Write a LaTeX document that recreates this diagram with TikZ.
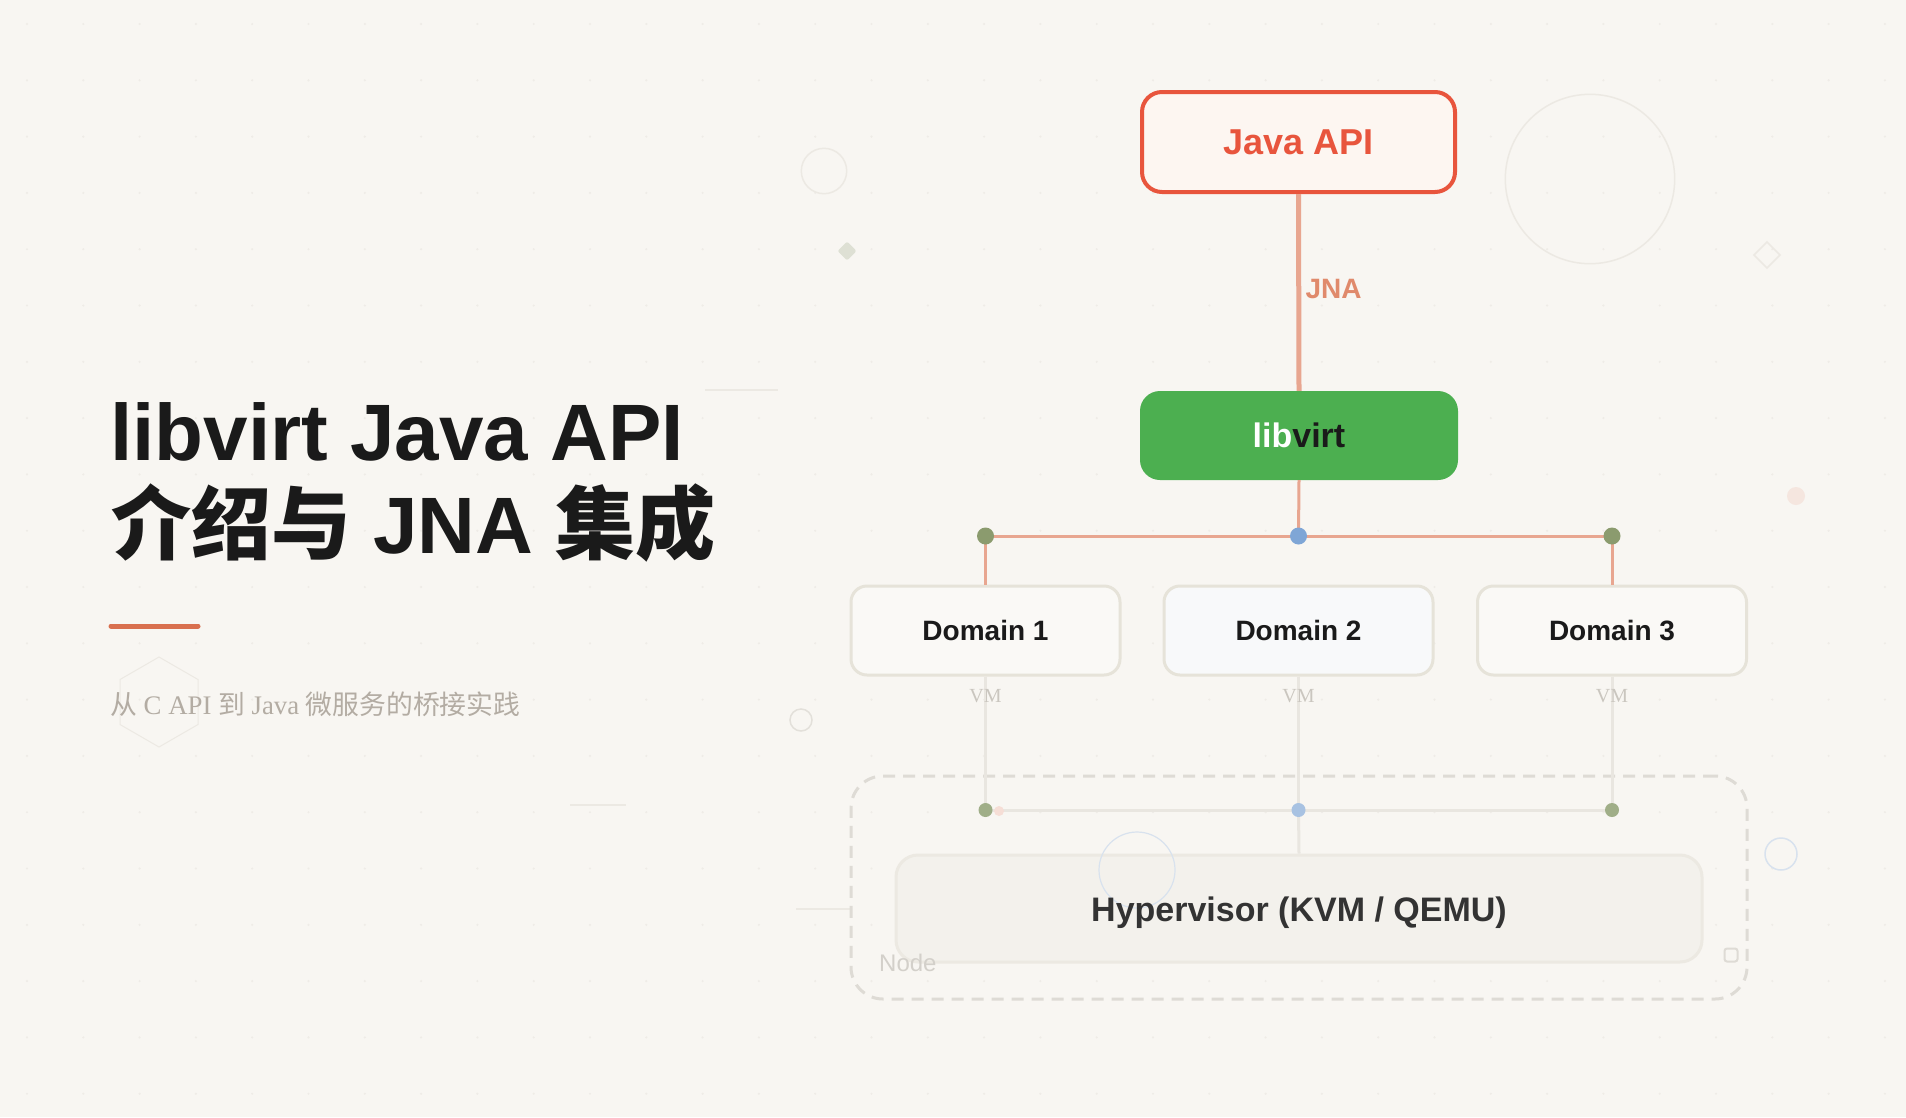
\documentclass[tikz,border=0pt]{standalone}
\usepackage{fontspec}
\setmainfont{Liberation Sans}
\newfontfamily\lserif{Liberation Serif}
\newfontfamily\cjk{Noto Sans CJK SC}
\usetikzlibrary{shapes.geometric}
\definecolor{bgc}{HTML}{F8F6F2}
\definecolor{griddot}{HTML}{EFECE7}
\definecolor{javared}{HTML}{E8553D}
\definecolor{javafill}{HTML}{FDF6F1}
\definecolor{salmon}{HTML}{E8A690}
\definecolor{jnatext}{HTML}{E08A6C}
\definecolor{libgreen}{HTML}{4CAF50}
\definecolor{txtdark}{HTML}{1A1A1A}
\definecolor{dotgreen}{HTML}{8B9B6E}
\definecolor{dotblue}{HTML}{7FA6D6}
\definecolor{ldotgreen}{HTML}{A0AE88}
\definecolor{ldotblue}{HTML}{A8C2E2}
\definecolor{ldotpink}{HTML}{F6DED6}
\definecolor{domborder}{HTML}{E6E3D9}
\definecolor{domfill}{HTML}{FAF9F6}
\definecolor{domfillb}{HTML}{F8F9FA}
\definecolor{vmline}{HTML}{E9E6E0}
\definecolor{vmtext}{HTML}{CAC6BF}
\definecolor{hypfill}{HTML}{F3F1EC}
\definecolor{hypborder}{HTML}{ECE9E2}
\definecolor{hyptext}{HTML}{333333}
\definecolor{dashc}{HTML}{DEDBD5}
\definecolor{nodetext}{HTML}{D3D0CA}
\definecolor{decor}{HTML}{ECE9E3}
\definecolor{decorb}{HTML}{E3E0DA}
\definecolor{decorblue}{HTML}{D8E2EE}
\definecolor{diamfill}{HTML}{DEE0D4}
\definecolor{pinkdot}{HTML}{F5E6DF}
\definecolor{accent}{HTML}{D9704F}
\definecolor{subtxt}{HTML}{B3ACA3}
\begin{document}
\begin{tikzpicture}[x=1pt,y=-1pt,
  domainbox/.style={draw=domborder,line width=3pt,rounded corners=16pt,minimum width=269pt,minimum height=89pt,inner sep=0pt,font=\fontsize{28}{32}\selectfont\bfseries,text=txtdark},
  bigdot/.style={circle,inner sep=0pt,minimum size=17pt},
  smalldot/.style={circle,inner sep=0pt,minimum size=14pt},
  vmlabel/.style={font=\lserif\fontsize{20}{22}\selectfont,text=vmtext,inner sep=1pt},
  decoline/.style={draw=decor,line width=1.5pt},
]
\fill[bgc] (0,0) rectangle (1906,1117);
\useasboundingbox (0,0) rectangle (1906,1117);
% grid dots
\foreach \i in {0,...,33} {\foreach \j in {0,...,19} {\fill[griddot] (27+56.3*\i,24+56.3*\j) circle (1.2);}}
% decorations
\draw[decoline] (824,171) circle (22.7);
\fill[diamfill,rounded corners=2pt] (847,241.5) -- (856.5,251) -- (847,260.5) -- (837.5,251) -- cycle;
\draw[decoline] (1590,179) circle (84.7);
\draw[decoline] (1767,242) -- (1780,255) -- (1767,268) -- (1754,255) -- cycle;
\fill[pinkdot] (1796,496) circle (9);
\draw[decorb,line width=1.5pt] (801,720) circle (11);
\draw[decorblue,line width=1.5pt] (1781,854) circle (16);
\draw[decoline,line width=1pt] (159,657) -- (198,679.5) -- (198,724.5) -- (159,747) -- (120,724.5) -- (120,679.5) -- cycle;
\draw[decoline] (705,390) -- (778,390);
\draw[decoline] (570,805) -- (626,805);
\draw[decoline] (796,909) -- (852,909);
% title
\node[anchor=base west,inner sep=0pt,text=txtdark,font=\fontsize{80}{93}\selectfont\bfseries] (t1) at (110,460) {libvirt Java API};
\node[anchor=base west,inner sep=0pt,text=txtdark,font=\fontsize{80}{93}\selectfont\bfseries] (t2) at (111,553) {{\cjk\bfseries 介绍与} JNA {\cjk\bfseries 集成}};
\coordinate (a1) at (111,626);
\coordinate (a2) at (198,626);
\draw[accent,line width=5pt,line cap=round] (a1) -- (a2);
\node[anchor=base west,inner sep=0pt,text=subtxt,font=\fontsize{26.8}{30}\selectfont] (sub) at (110,714) {{\cjk 从}{\lserif\ C API }{\cjk 到}{\lserif\ Java }{\cjk 微服务的桥接实践}};
% diagram nodes
\node[draw=javared,fill=javafill,line width=4pt,rounded corners=20pt,minimum width=313pt,minimum height=100pt,inner sep=0pt,text=javared,font=\fontsize{36}{40}\selectfont\bfseries] (java) at (1298.5,142) {Java API};
\node[fill=libgreen,rounded corners=20pt,minimum width=318pt,minimum height=89pt,inner sep=0pt,font=\fontsize{34}{38}\selectfont\bfseries] (lib) at (1299,435.5) {{\color{white}lib}{\color{txtdark}virt}};
% dashed node box and hypervisor
\node[draw=dashc,line width=3pt,dash pattern=on 12pt off 8pt,rounded corners=32pt,minimum width=896pt,minimum height=223pt,inner sep=0pt] (nodebox) at (1299,887.5) {};
\draw[dashc,line width=2pt,rounded corners=2.5pt] (1724.5,948.5) rectangle (1737.5,961.5);
\node[draw=hypborder,fill=hypfill,line width=3pt,rounded corners=22pt,minimum width=806pt,minimum height=107pt,inner sep=0pt] (hyp) at (1299,908.5) {};
\draw[decorblue,line width=1.2pt] (1137,870) circle (38);
\node[inner sep=0pt,text=hyptext,font=\fontsize{34}{38}\selectfont\bfseries] (hyplbl) at ([yshift=-4pt]hyp.center) {Hypervisor (KVM / QEMU)};
\node[anchor=base west,inner sep=0pt,text=nodetext,font=\fontsize{24}{28}\selectfont] (nodelbl) at (879,971) {Node};
% domains
\node[domainbox,fill=domfill] (d1) at (985.5,630.5) {Domain 1};
\node[domainbox,fill=domfillb] (d2) at (1298.5,630.5) {Domain 2};
\node[domainbox,fill=domfill] (d3) at (1612,630.5) {Domain 3};
% connectors
\draw[salmon,line width=5pt] (java.south) -- node[right,xshift=1pt,yshift=3pt,text=jnatext,font=\fontsize{28}{30}\selectfont\bfseries,pos=0.5] (jna) {JNA} (lib.north);
\coordinate (j1) at (985.5,536);
\coordinate (j2) at (1298.5,536);
\coordinate (j3) at (1612,536);
\coordinate (k1) at (985.5,810);
\coordinate (k2) at (1298.5,810);
\coordinate (k3) at (1612,810);
\draw[salmon,line width=3pt] (lib.south) -- (j2);
\draw[salmon,line width=3pt] (j1) -- (j3);
\draw[salmon,line width=3pt] (j1) -- (d1.north);
\draw[salmon,line width=3pt] (j3) -- (d3.north);
\draw[vmline,line width=3pt] (d1.south) -- (k1);
\draw[vmline,line width=3pt] (d2.south) -- (k2);
\draw[vmline,line width=3pt] (d3.south) -- (k3);
\draw[vmline,line width=3pt] (k1) -- (k3);
\draw[vmline,line width=3pt] (k2) -- (hyp.north);
% junction dots
\node[bigdot,fill=dotgreen] (n1) at (j1) {};
\node[bigdot,fill=dotblue] (n2) at (j2) {};
\node[bigdot,fill=dotgreen] (n3) at (j3) {};
\node[smalldot,fill=ldotgreen] (m1) at (k1) {};
\node[smalldot,fill=ldotblue] (m2) at (k2) {};
\node[smalldot,fill=ldotgreen] (m3) at (k3) {};
\fill[ldotpink] (999,811) circle (5);
\node[vmlabel] (vm1) at (985.5,696) {VM};
\node[vmlabel] (vm2) at (1298.5,696) {VM};
\node[vmlabel] (vm3) at (1612,696) {VM};
\end{tikzpicture}
\end{document}
